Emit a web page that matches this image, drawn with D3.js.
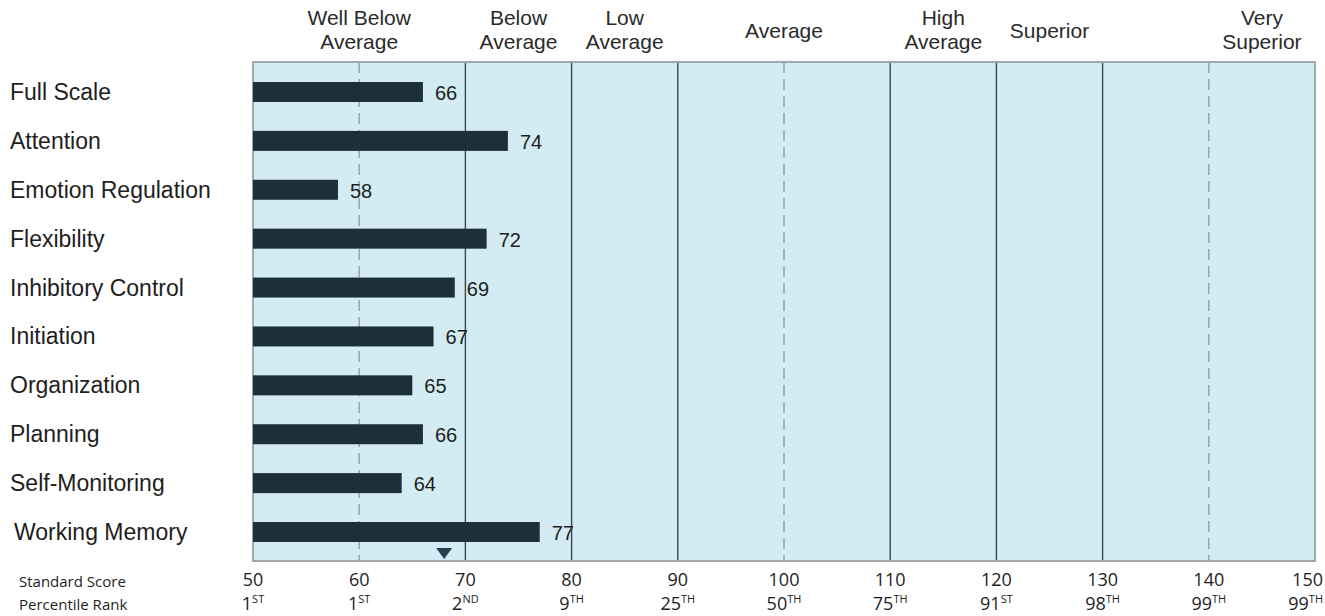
<!DOCTYPE html>
<html>
<head>
<meta charset="utf-8">
<script src="https://cdn.jsdelivr.net/npm/d3@7"></script>
<style>
  body { margin: 0; background: #fff; }
  svg { display: block; }
  .row-label { font-family: "Liberation Sans", Arial, sans-serif; font-size: 23px; fill: #1e1e1e; }
  .value-label { font-family: "Liberation Sans", Arial, sans-serif; font-size: 20px; fill: #1e1e1e; }
  .range-label { font-family: "Liberation Sans", Arial, sans-serif; font-size: 21px; fill: #2a2a2a; }
  .axis-text { font-family: "Open Sans", "Noto Sans", sans-serif; font-size: 18px; fill: #1e1e1e; }
  .axis-title { font-family: "Open Sans", "Noto Sans", sans-serif; font-size: 15px; fill: #1e1e1e; }
</style>
</head>
<body>
<svg id="chart" width="1325" height="616"></svg>
<script>
// scale names and their scores
const domains = ["Full Scale", "Attention", "Emotion Regulation", "Flexibility", "Inhibitory Control",
    "Initiation", "Organization", "Planning", "Self-Monitoring", "Working Memory"];
const scores = [66, 74, 58, 72, 69, 67, 65, 66, 64, 77];

// descriptive ranges: label lines, boundaries and where the label sits
const rangeNames = [["Well Below", "Average"], ["Below", "Average"], ["Low", "Average"], ["Average"],
    ["High", "Average"], ["Superior"], ["Very", "Superior"]];
const rangeLabelAt = [60, 75, 85, 100, 115, 125, 145];
const solidLines = [70, 80, 90, 110, 120, 130];
const dashedLines = [60, 100, 140];

// bottom axis
const standardTicks = [50, 60, 70, 80, 90, 100, 110, 120, 130, 140, 150];
const percentileNum = ["1", "1", "2", "9", "25", "50", "75", "91", "98", "99", "99"];
const percentileSuffix = ["ST", "ST", "ND", "TH", "TH", "TH", "TH", "ST", "TH", "TH", "TH"];

// composite marker (triangle)
const markerScore = 68;

let plotLeft = 253, plotRight = 1315, plotTop = 62, plotBottom = 561;

let svg = d3.select("#chart");
let x = d3.scaleLinear().domain([50, 150]).range([plotLeft, plotRight]);
let y = d3.scalePoint().domain(domains).range([92, 532]);
let barHeight = 20;

// plot background
svg.append("rect")
    .attr("x", plotLeft).attr("y", plotTop)
    .attr("width", plotRight - plotLeft).attr("height", plotBottom - plotTop)
    .attr("fill", "#d3ebf2");

// range boundaries
svg.append("g").selectAll("line").data(solidLines).enter().append("line")
    .attr("x1", d => x(d)).attr("x2", d => x(d))
    .attr("y1", plotTop).attr("y2", plotBottom)
    .attr("stroke", "#3f4548").attr("stroke-width", 1.4);

svg.append("g").selectAll("line").data(dashedLines).enter().append("line")
    .attr("x1", d => x(d)).attr("x2", d => x(d))
    .attr("y1", plotTop).attr("y2", plotBottom)
    .attr("stroke", "#9aa3a7").attr("stroke-width", 1.5)
    .attr("stroke-dasharray", "11,6");

// frame
svg.append("rect")
    .attr("x", plotLeft).attr("y", plotTop)
    .attr("width", plotRight - plotLeft).attr("height", plotBottom - plotTop)
    .attr("fill", "none").attr("stroke", "#a3a9ab").attr("stroke-width", 2);

// range labels across the top
let rangeGroup = svg.append("g");
rangeNames.forEach((lines, i) => {
    let baselines = lines.length === 2 ? [25, 49] : [38];
    lines.forEach((line, j) => {
        rangeGroup.append("text")
            .classed("range-label", true)
            .attr("x", x(rangeLabelAt[i]))
            .attr("y", baselines[j])
            .attr("text-anchor", "middle")
            .text(line);
    });
});

// bars
svg.append("g").selectAll("rect").data(scores).enter().append("rect")
    .attr("x", x(50))
    .attr("y", (d, i) => y(domains[i]) - barHeight / 2)
    .attr("width", d => x(d) - x(50))
    .attr("height", barHeight)
    .attr("fill", "#1d3039");

// score values
svg.append("g").selectAll("text").data(scores).enter().append("text")
    .classed("value-label", true)
    .attr("x", d => x(d) + 12)
    .attr("y", (d, i) => y(domains[i]) + 8)
    .text(d => d);

// row labels
svg.append("g").selectAll("text").data(domains).enter().append("text")
    .classed("row-label", true)
    .attr("x", d => d === "Working Memory" ? 14 : 10)
    .attr("y", d => y(d) + 8)
    .text(d => d);

// marker triangle
let mx = x(markerScore);
svg.append("path")
    .attr("d", `M${mx - 8},${plotBottom - 13} L${mx + 8},${plotBottom - 13} L${mx},${plotBottom - 2} Z`)
    .attr("fill", "#2a3e52");

// bottom axis text
svg.append("text").classed("axis-title", true).attr("x", 19).attr("y", 587).text("Standard Score");
svg.append("text").classed("axis-title", true).attr("x", 19).attr("y", 610).text("Percentile Rank");

// the last column is pulled in so it stays inside the page
let lastTick = standardTicks[standardTicks.length - 1];
let tickX = d => d === lastTick ? 1323 : x(d);
let tickAnchor = d => d === lastTick ? "end" : "middle";

svg.append("g").selectAll("text").data(standardTicks).enter().append("text")
    .classed("axis-text", true)
    .attr("x", tickX)
    .attr("y", 586)
    .attr("text-anchor", tickAnchor)
    .text(d => d);

let pct = svg.append("g").selectAll("text").data(standardTicks).enter().append("text")
    .classed("axis-text", true)
    .attr("x", tickX)
    .attr("y", 610)
    .attr("text-anchor", tickAnchor);
pct.append("tspan").text((d, i) => percentileNum[i]);
pct.append("tspan")
    .attr("font-size", 11)
    .attr("dy", -7)
    .text((d, i) => percentileSuffix[i]);
</script>
</body>
</html>
